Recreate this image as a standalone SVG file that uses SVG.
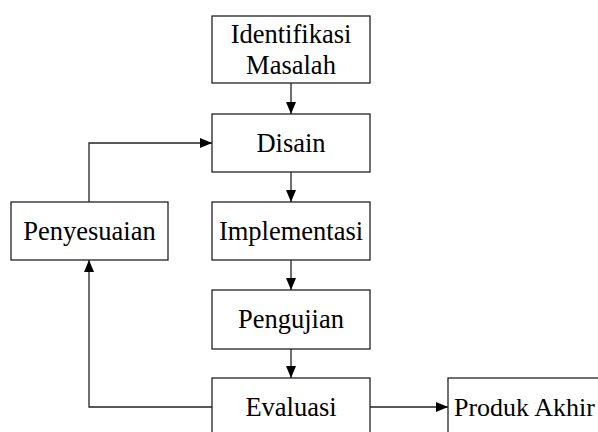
<svg xmlns="http://www.w3.org/2000/svg" width="598" height="432" viewBox="0 0 598 432">
  <style>
    .box { fill: #ffffff; stroke: #222222; stroke-width: 1.3; }
    .lbl { font-family: "Liberation Serif", "Times New Roman", serif; font-size: 26.5px; fill: #000000; text-anchor: middle; }
    .edge { fill: none; stroke: #222222; stroke-width: 1.3; }
  </style>
  <defs>
    <marker id="arrow" viewBox="0 0 12 10" refX="12" refY="5" markerWidth="12" markerHeight="10" markerUnits="userSpaceOnUse" orient="auto">
      <path d="M0,0 L12,5 L0,10 Z" fill="#000000"/>
    </marker>
  </defs>
  <rect width="598" height="432" fill="#ffffff"/>

  <g id="connectors">
    <path class="edge" d="M291,83 V114" marker-end="url(#arrow)"/>
    <path class="edge" d="M291,172 V202" marker-end="url(#arrow)"/>
    <path class="edge" d="M291,260 V290" marker-end="url(#arrow)"/>
    <path class="edge" d="M291,349 V378" marker-end="url(#arrow)"/>
    <path class="edge" d="M212,407 H89 V260" marker-end="url(#arrow)"/>
    <path class="edge" d="M89,202 V143 H212" marker-end="url(#arrow)"/>
    <path class="edge" d="M370,407 H448" marker-end="url(#arrow)"/>
  </g>

  <g id="identifikasi">
    <rect class="box" x="212" y="16" width="158" height="67"/>
    <text class="lbl" x="291" y="43">Identifikasi</text>
    <text class="lbl" x="291" y="74">Masalah</text>
  </g>
  <g id="disain">
    <rect class="box" x="212" y="114" width="158" height="58"/>
    <text class="lbl" x="291" y="152">Disain</text>
  </g>
  <g id="penyesuaian">
    <rect class="box" x="11" y="202" width="157" height="58"/>
    <text class="lbl" x="89.5" y="240">Penyesuaian</text>
  </g>
  <g id="implementasi">
    <rect class="box" x="212" y="202" width="158" height="58"/>
    <text class="lbl" x="291" y="240">Implementasi</text>
  </g>
  <g id="pengujian">
    <rect class="box" x="212" y="290" width="158" height="59"/>
    <text class="lbl" x="291" y="328">Pengujian</text>
  </g>
  <g id="evaluasi">
    <rect class="box" x="212" y="378" width="158" height="80"/>
    <text class="lbl" x="291" y="416">Evaluasi</text>
  </g>
  <g id="produk-akhir">
    <rect class="box" x="448" y="378" width="200" height="80"/>
    <text class="lbl" x="454" y="416" style="text-anchor: start; font-size: 26px">Produk Akhir</text>
  </g>
</svg>
